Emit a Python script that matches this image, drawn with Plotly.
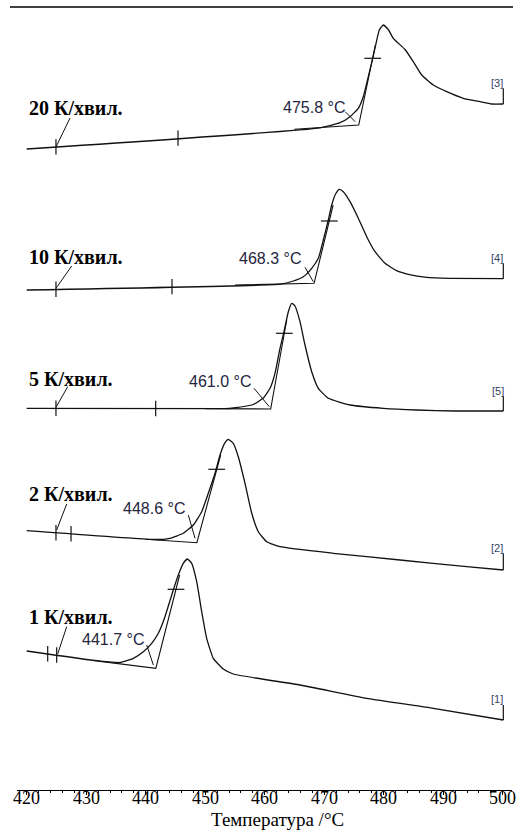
import plotly.graph_objects as go

# ---------------- data (temperature °C, vertically offset heat-flow signal, arbitrary units) -------------
rates = ["20 К/хвил.", "10 К/хвил.", "5 К/хвил.", "2 К/хвил.", "1 К/хвил."]
onsets = [475.8, 468.3, 461.0, 448.6, 441.7]
run_ids = ["[3]", "[4]", "[5]", "[2]", "[1]"]

T_20 = [420.0, 469.3, 472.66, 474.34, 475.73, 476.57, 477.41, 478.15, 478.71, 479.26, 479.93, 480.77,
        481.61, 483.58, 484.97, 486.39, 488.34, 490.59, 493.38, 496.18, 498.15, 500.1]
S_20 = [641, 662.2, 667.3, 673.3, 681.7, 693.3, 713.3, 731.7, 746.7, 760, 765, 760.5,
        751.7, 740.5, 728.3, 715, 705, 698.3, 691.7, 688.3, 686, 686]

T_10 = [420.0, 462.57, 464.81, 466.49, 467.9, 469.01, 469.85, 470.69, 471.26, 471.98, 472.54, 473.21,
        474.34, 475.73, 477.14, 478.54, 480.22, 482.18, 484.13, 487.23, 491.14, 500.1]
S_10 = [500, 505.9, 509, 513.3, 521.7, 531.7, 550, 570, 585, 596.7, 600.7, 598.3,
        588.3, 571.7, 553.3, 538.3, 526.7, 519.3, 515.7, 512.7, 511.7, 511.3]

T_5 = [420.0, 453.34, 454.72, 458.08, 459.76, 460.89, 461.73, 462.57, 463.24, 463.97, 464.54, 465.09,
       465.93, 466.77, 467.9, 469.01, 470.69, 472.66, 474.34, 479.93, 485.55, 491.98, 500.1]
S_5 = [381.7, 381.3, 382, 385.5, 392, 401.7, 416.7, 441.7, 458.3, 478.3, 486.7, 484,
       468.3, 445, 418.3, 401.7, 391.7, 387.7, 385, 381.7, 380, 379, 379]

T_2 = [420.0, 440.74, 442.96, 444.08, 446.32, 448.0, 449.41, 450.52, 451.65, 452.49, 453.33, 453.88,
       454.72, 455.56, 456.69, 457.82, 458.92, 460.34, 462.57, 471.53, 482.74, 493.95, 500.1]
S_2 = [259.3, 250.6, 250.7, 251.7, 256.7, 265, 278.3, 296.7, 316.7, 335, 347.3, 350.7,
       346.7, 333.3, 306.7, 276.7, 258.3, 248.3, 243.3, 236.7, 230, 223.3, 220]

T_1 = [420.0, 432.32, 435.68, 437.92, 439.6, 441.01, 442.12, 443.24, 444.37, 445.48, 446.32, 446.99,
       447.73, 448.57, 449.41, 450.25, 451.36, 453.04, 454.72, 465.93, 477.14, 488.34, 500.1]
S_1 = [139, 128.8, 127.5, 131.7, 138.3, 146.7, 156.7, 173.3, 195, 215, 226.7, 231,
       226.7, 208.3, 178.3, 151.7, 131.7, 121, 116, 105, 91.7, 81.7, 70]

curves_T = [T_20, T_10, T_5, T_2, T_1]
curves_S = [S_20, S_10, S_5, S_2, S_1]

# baseline level at the onset (tangent intersection)
onset_S = [665, 506.7, 381, 247.3, 121.7]
# baseline / inflection tangents: start of extrapolated baseline and end of inflection tangent
base_T0 = [465.0, 455.0, 450.0, 440.0, 432.0]
base_S0 = [660.7, 504.9, 381.4, 250.7, 128.9]
tan_T1 = [478.6, 471.5, 463.7, 452.6, 445.7]
tan_S1 = [745, 585, 470, 335, 215]
# evaluation markers on baselines (vertical) and on tangents (horizontal)
mark_base_T = [[424.92, 445.43], [424.92, 444.42], [424.92, 441.68], [424.92, 427.45], [423.53, 425.04]]
mark_base_S = [[643.1, 651.9], [500.7, 503.4], [381.7, 381.5], [257.2, 256.2], [136.2, 135.0]]
mark_tan_T = [478.15, 470.86, 463.29, 451.93, 445.09]
mark_tan_S = [731.7, 569, 456.7, 320.7, 200.7]
# end brackets
end_T = 500.1
end_S0 = [686, 511.3, 379, 220, 70]
end_S1 = [701.7, 526.7, 394, 236.7, 85]
id_T = [499.0, 499.0, 499.26, 499.0, 499.0]
id_S = [707.3, 531.7, 399.3, 241.7, 91]
# onset labels + leader lines
lab_T = [473.86, 466.49, 458.08, 446.89, 440.0]
lab_S = [683, 531.7, 409, 282, 150.7]
lead_T = [[473.53, 475.21], [466.77, 468.17], [458.2, 460.77], [447.16, 448.29], [440.17, 441.28]]
lead_S = [[678.3, 668.3], [522.7, 508.3], [401.7, 383.3], [275, 251.7], [145, 125]]
# rate labels + leader lines
rate_S = [682, 532.7, 411, 296, 173.3]
rlead_T = [[427.28, 424.92], [427.56, 424.92], [426.89, 424.92], [426.72, 425.04], [426.72, 425.21]]
rlead_S = [[672, 643], [524, 501.7], [403.3, 382.7], [286, 260], [163.3, 136]]

x_ticks = [420, 430, 440, 450, 460, 470, 480, 490, 500]
x_ticktext = ["420", "430", "440", "450", "460", "470", "480", "490", "500"]
x_title = "Температура /°C"

# ---------------- figure ----------------
fig = go.Figure()
LC = "#111111"

for i in range(5):
    fig.add_trace(go.Scatter(x=curves_T[i], y=curves_S[i], mode="lines",
                             line=dict(color=LC, width=1.3, shape="spline", smoothing=0.45),
                             hoverinfo="skip", showlegend=False))
    # baseline extrapolation + inflection tangent
    fig.add_trace(go.Scatter(x=[base_T0[i], onsets[i], tan_T1[i]],
                             y=[base_S0[i], onset_S[i], tan_S1[i]], mode="lines",
                             line=dict(color=LC, width=1.1), hoverinfo="skip", showlegend=False))
    # end bracket
    fig.add_trace(go.Scatter(x=[end_T, end_T], y=[end_S0[i], end_S1[i]], mode="lines",
                             line=dict(color=LC, width=1.2), hoverinfo="skip", showlegend=False))
    # leader lines
    fig.add_trace(go.Scatter(x=lead_T[i], y=lead_S[i], mode="lines",
                             line=dict(color=LC, width=1.0), hoverinfo="skip", showlegend=False))
    fig.add_trace(go.Scatter(x=rlead_T[i], y=rlead_S[i], mode="lines",
                             line=dict(color=LC, width=1.0), hoverinfo="skip", showlegend=False))
    # markers
    fig.add_trace(go.Scatter(x=mark_base_T[i], y=mark_base_S[i], mode="markers",
                             marker=dict(symbol="line-ns", size=11, line=dict(color=LC, width=1.2)),
                             hoverinfo="skip", showlegend=False))
    fig.add_trace(go.Scatter(x=[mark_tan_T[i]], y=[mark_tan_S[i]], mode="markers",
                             marker=dict(symbol="line-ew", size=12, line=dict(color=LC, width=1.2)),
                             hoverinfo="skip", showlegend=False))
    # texts
    fig.add_annotation(x=lab_T[i], y=lab_S[i], text=f"{onsets[i]:.1f} °C", showarrow=False,
                       xanchor="right", yanchor="middle",
                       font=dict(family="Liberation Sans, Arial", size=16, color="#252540"))
    fig.add_annotation(x=420.05, y=rate_S[i], text=f"<b>{rates[i]}</b>", showarrow=False,
                       xanchor="left", yanchor="middle",
                       font=dict(family="Liberation Serif, Times New Roman", size=20, color="#000000"))
    fig.add_annotation(x=id_T[i], y=id_S[i], text=run_ids[i], showarrow=False,
                       xanchor="center", yanchor="middle",
                       font=dict(family="Liberation Sans, Arial", size=11, color="#334466"))

# tick labels placed close to the axis (as in the reference)
for tv, tt in zip(x_ticks, x_ticktext):
    fig.add_annotation(x=tv, y=-(797.5 - 790) / 783, xref="x", yref="paper", text=tt,
                       showarrow=False, xanchor="center", yanchor="middle",
                       font=dict(family="Liberation Serif, Times New Roman", size=18, color="#000000"))

fig.add_annotation(x=(277 - 17) / 495, y=-(819 - 790) / 783, xref="paper", yref="paper",
                   text=x_title, showarrow=False, xanchor="center", yanchor="middle",
                   font=dict(family="Liberation Serif, Times New Roman", size=19, color="#000000"))

fig.add_shape(type="line", xref="paper", yref="paper", x0=(10 - 17) / 495, x1=(513 - 17) / 495,
              y0=1, y1=1, line=dict(color="#000000", width=1.6))

fig.update_layout(
    width=520, height=832,
    margin=dict(l=17, r=8, t=7, b=42),
    paper_bgcolor="white", plot_bgcolor="white",
    xaxis=dict(range=[418.37, 501.56], showgrid=False, zeroline=False,
               showline=True, linecolor="#000000", linewidth=1,
               ticks="outside", ticklen=4, tickwidth=1, tickcolor="#000000",
               tickvals=x_ticks, showticklabels=False,
               minor=dict(dtick=2, tick0=420, ticks="outside", ticklen=2, tickcolor="#000000", showgrid=False)),
    yaxis=dict(range=[0, 783], visible=False),
)

fig.write_html("out.html")
